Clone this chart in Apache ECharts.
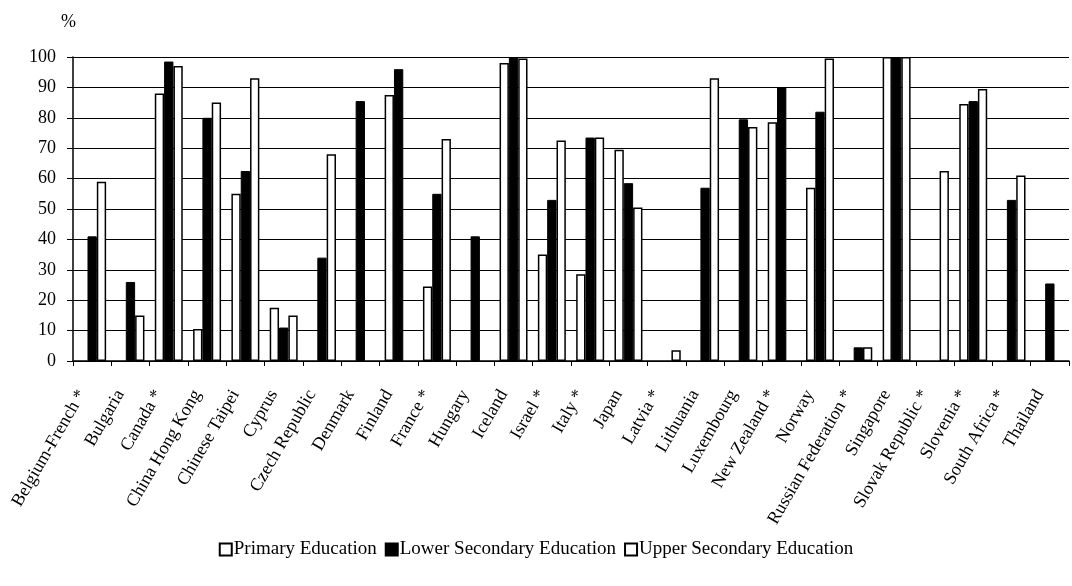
<!DOCTYPE html>
<html>
<head>
<meta charset="utf-8">
<script src="https://cdn.jsdelivr.net/npm/echarts@6/dist/echarts.min.js"></script>
<style>
html,body{margin:0;padding:0;background:#fff;}
#chart{width:1072px;height:586px;}
</style>
</head>
<body>
<div id="chart"></div>
<script>
var categories = ['Belgium-French *','Bulgaria','Canada *','China Hong Kong','Chinese Taipei','Cyprus','Czech Republic','Denmark','Finland','France *','Hungary','Iceland','Israel *','Italy *','Japan','Latvia *','Lithuania','Luxembourg','New Zealand *','Norway','Russian Federation *','Singapore','Slovak Republic *','Slovenia *','South Africa *','Thailand'];
var primary = [null,null,88,10.5,55,17.5,null,null,87.5,24.5,null,98,35,28.5,69.5,null,null,null,78.5,57,null,100,null,84.5,null,null];
var lowerSecondary = [41,26,98.5,80,62.5,11,34,85.5,96,55,41,100,53,73.5,58.5,null,57,79.5,90,82,4.5,100,null,85.5,53,25.5];
var upperSecondary = [59,15,97,85,93,15,68,null,null,73,null,99.5,72.5,73.5,50.5,3.5,93,77,null,99.5,4.5,100,62.5,89.5,61,null];
var yTicks = [0,10,20,30,40,50,60,70,80,90,100];

var font = 'Liberation Serif';
var chart = echarts.init(document.getElementById('chart'), null, {renderer:'canvas'});
var whiteStyle = {color:'#ffffff', borderColor:'#000000', borderWidth:1.5};
chart.setOption({
  animation:false,
  backgroundColor:'#ffffff',
  textStyle:{fontFamily:font, color:'#000'},
  title:{text:'%', left:56, top:8, textStyle:{fontFamily:font, fontSize:18, fontWeight:'normal', color:'#000'}},
  grid:{left:73, right:3, top:57, bottom:225},
  legend:{
    bottom:22, left:'center', icon:'rect', itemWidth:12, itemHeight:12, itemGap:8,
    textStyle:{fontFamily:font, fontSize:19, color:'#000', padding:[0,0,0,-3]},
    data:['Primary Education','Lower Secondary Education','Upper Secondary Education']
  },
  xAxis:{
    type:'category', data:categories,
    axisLine:{lineStyle:{color:'#000', width:1.5}},
    axisTick:{show:true, length:5, lineStyle:{color:'#000'}},
    axisLabel:{rotate:60, interval:0, margin:13, padding:[0,20,0,0], fontFamily:font, fontSize:18, color:'#000'}
  },
  yAxis:{
    type:'value', min:0, max:100, interval:10,
    axisLine:{show:true, lineStyle:{color:'#000', width:1.5}},
    axisTick:{show:true, length:6, lineStyle:{color:'#000'}},
    axisLabel:{fontFamily:font, fontSize:18, color:'#000', margin:17,
      formatter:function(v){return yTicks.indexOf(v)>=0 ? String(v) : '';}},
    splitLine:{show:true, lineStyle:{color:'#000', width:1.2}}
  },
  series:[
    {name:'Primary Education', type:'bar', data:primary, itemStyle:whiteStyle, barGap:'0%', barCategoryGap:'27%'},
    {name:'Lower Secondary Education', type:'bar', data:lowerSecondary, itemStyle:{color:'#000000', borderColor:'#000', borderWidth:1}},
    {name:'Upper Secondary Education', type:'bar', data:upperSecondary, itemStyle:whiteStyle}
  ]
});
</script>
</body>
</html>
